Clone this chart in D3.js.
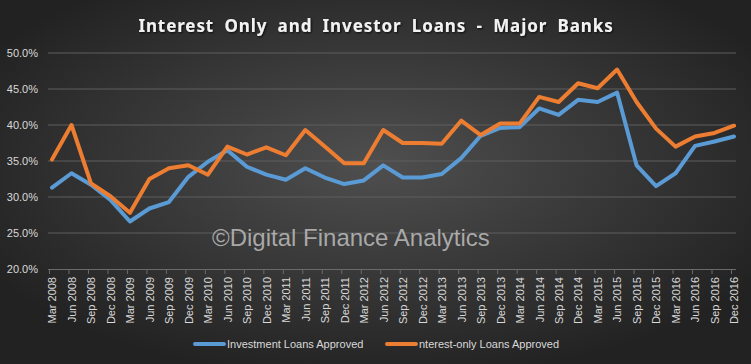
<!DOCTYPE html>
<html>
<head>
<meta charset="utf-8">
<script src="https://cdn.jsdelivr.net/npm/d3@7"></script>
<style>
  body { margin: 0; background: #2a2a2a; }
  svg { display: block; }
</style>
</head>
<body>
<svg id="chart" width="751" height="364"></svg>
<script>
// quarterly labels, Mar 2008 .. Dec 2016
const quarters = [
  "Mar 2008","Jun 2008","Sep 2008","Dec 2008","Mar 2009","Jun 2009","Sep 2009","Dec 2009",
  "Mar 2010","Jun 2010","Sep 2010","Dec 2010","Mar 2011","Jun 2011","Sep 2011","Dec 2011",
  "Mar 2012","Jun 2012","Sep 2012","Dec 2012","Mar 2013","Jun 2013","Sep 2013","Dec 2013",
  "Mar 2014","Jun 2014","Sep 2014","Dec 2014","Mar 2015","Jun 2015","Sep 2015","Dec 2015",
  "Mar 2016","Jun 2016","Sep 2016","Dec 2016"
];

// values in percent
const investment = [
  31.3, 33.3, 31.7, 29.6, 26.6, 28.4, 29.3, 32.8, 34.9, 36.5, 34.2, 33.1,
  32.4, 34.0, 32.7, 31.8, 32.3, 34.4, 32.7, 32.7, 33.2, 35.4, 38.5, 39.6,
  39.7, 42.3, 41.4, 43.5, 43.2, 44.5, 34.4, 31.5, 33.3, 37.1, 37.7, 38.4
];
const interestOnly = [
  35.2, 40.0, 31.9, 30.1, 27.8, 32.5, 34.0, 34.4, 33.1, 37.0, 35.9, 36.9,
  35.8, 39.3, 37.0, 34.7, 34.7, 39.3, 37.5, 37.5, 37.4, 40.6, 38.6, 40.2,
  40.2, 43.9, 43.2, 45.8, 45.1, 47.7, 43.2, 39.5, 37.0, 38.4, 38.9, 39.9
];
const yTicks = [20, 25, 30, 35, 40, 45, 50];

const series = [
  { name: "Investment Loans Approved", values: investment, color: "#5b9bd5" },
  { name: "nterest-only Loans Approved", values: interestOnly, color: "#ed7d31" }
];

const width = 751, height = 364;
const svg = d3.select("#chart");

// background gradient
const defs = svg.append("defs");
const grad = defs.append("radialGradient")
  .attr("id", "bg")
  .attr("cx", "50%").attr("cy", "45%").attr("r", "60%");
grad.append("stop").attr("offset", "0%").attr("stop-color", "#4f4f4f");
grad.append("stop").attr("offset", "100%").attr("stop-color", "#222222");

const shadow = defs.append("filter").attr("id", "shadow");
shadow.append("feDropShadow")
  .attr("dx", 1).attr("dy", 1).attr("stdDeviation", 1)
  .attr("flood-color", "#000").attr("flood-opacity", 0.8);

svg.append("rect")
  .attr("width", width).attr("height", height)
  .attr("fill", "url(#bg)");

// scales
const x = d3.scalePoint().domain(quarters).range([52, 734]);
const y = d3.scaleLinear().domain([20, 50]).range([269, 53]);

// gridlines
svg.append("g")
  .selectAll("line")
  .data(yTicks.slice(1))
  .enter()
  .append("line")
  .attr("x1", 48).attr("x2", 736)
  .attr("y1", d => y(d)).attr("y2", d => y(d))
  .attr("stroke", "#5e5e5e")
  .attr("stroke-width", 1);

// y axis labels
const yAxis = svg.append("g")
  .attr("transform", "translate(48,0)")
  .call(d3.axisLeft(y).tickValues(yTicks).tickSize(0).tickPadding(10)
    .tickFormat(d => d.toFixed(1) + "%"));
yAxis.select(".domain").remove();
yAxis.selectAll("text")
  .attr("fill", "#d9d9d9")
  .style("font-family", "Liberation Sans, Arial, sans-serif")
  .style("font-size", "11px");

// x axis
const xAxis = svg.append("g")
  .attr("transform", "translate(0," + y(20) + ")")
  .call(d3.axisBottom(x).tickSize(5).tickPadding(4));
xAxis.select(".domain")
  .attr("d", "M48,0.5H736")
  .attr("stroke", "#6a6a6a");
xAxis.selectAll(".tick line").attr("stroke", "#6a6a6a").attr("transform", "translate(-3,0)");
xAxis.selectAll("text")
  .attr("fill", "#d9d9d9")
  .style("font-family", "Liberation Sans, Arial, sans-serif")
  .style("font-size", "11px")
  .attr("text-anchor", "end")
  .attr("transform", "rotate(-90)")
  .attr("x", -8)
  .attr("y", 0)
  .attr("dy", "0.35em");

// watermark
svg.append("text")
  .attr("x", 212).attr("y", 246)
  .attr("fill", "#bdbdbd")
  .attr("fill-opacity", 0.85)
  .style("font-family", "Liberation Sans, Arial, sans-serif")
  .style("font-size", "24px")
  .text("\u00A9Digital Finance Analytics");

// lines
const line = d3.line()
  .x((d, i) => x(quarters[i]))
  .y(d => y(d));

series.forEach(s => {
  svg.append("path")
    .datum(s.values)
    .attr("fill", "none")
    .attr("stroke", s.color)
    .attr("stroke-width", 4)
    .attr("stroke-linejoin", "round")
    .attr("stroke-linecap", "round")
    .attr("d", line);
});

// title
svg.append("text")
  .attr("x", 376).attr("y", 32)
  .attr("text-anchor", "middle")
  .attr("fill", "#f2f2f2")
  .attr("filter", "url(#shadow)")
  .style("font-family", "Noto Sans, sans-serif")
  .style("font-weight", "bold")
  .style("font-size", "17px")
  .style("letter-spacing", "0.9px")
  .style("word-spacing", "5px")
  .text("Interest Only and Investor Loans - Major Banks");

// legend
const legendX = [195, 387];
series.forEach((s, i) => {
  const g = svg.append("g").attr("transform", "translate(" + legendX[i] + ",344)");
  g.append("line")
    .attr("x1", 0).attr("x2", 29)
    .attr("stroke", s.color)
    .attr("stroke-width", 4)
    .attr("stroke-linecap", "round");
  g.append("text")
    .attr("x", 32).attr("dy", "0.35em")
    .attr("fill", "#d9d9d9")
    .style("font-family", "Liberation Sans, Arial, sans-serif")
    .style("font-size", "11px")
    .text(s.name);
});
</script>
</body>
</html>
